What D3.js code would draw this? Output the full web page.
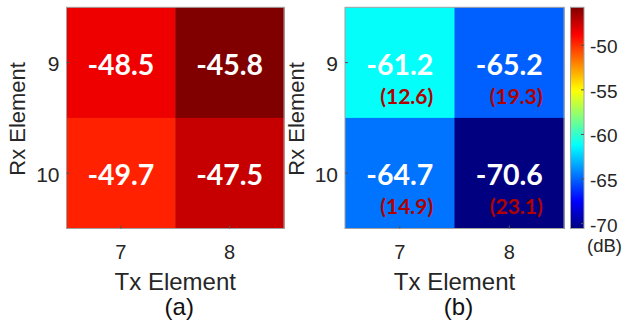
<!DOCTYPE html>
<html>
<head>
<meta charset="utf-8">
<script src="https://cdn.jsdelivr.net/npm/d3@7/dist/d3.min.js"></script>
<style>
  html, body { margin: 0; padding: 0; background: #fff; }
  svg { display: block; }
</style>
</head>
<body>
<svg id="chart" width="624" height="322"></svg>
<script>
// ---- data ----
const txElements = ["7", "8"];
const rxElements = ["9", "10"];
// cell order: (Rx9,Tx7), (Rx9,Tx8), (Rx10,Tx7), (Rx10,Tx8)
const cellTx = ["7", "8", "7", "8"];
const cellRx = ["9", "9", "10", "10"];
const couplingA = [-48.5, -45.8, -49.7, -47.5];
const couplingB = [-61.2, -65.2, -64.7, -70.6];
const reductionB = [12.6, 19.3, 14.9, 23.1];
const colorbarTicks = [-50, -55, -60, -65, -70];
const panelLabels = ["(a)", "(b)"];
const axisTitleX = "Tx Element";
const axisTitleY = "Rx Element";
const unitLabel = "(dB)";

// ---- jet colour scale (limits = data extent, as in the figure) ----
const [vmin, vmax] = d3.extent(couplingA.concat(couplingB));
const jetStops = [0, 0.125, 0.375, 0.625, 0.875, 1];
const jetColors = ["#000080", "#0000ff", "#00ffff", "#ffff00", "#ff0000", "#800000"];
const color = d3.scaleLinear()
  .domain(jetStops.map(t => vmin + t * (vmax - vmin)))
  .range(jetColors)
  .interpolate(d3.interpolateRgb)
  .clamp(true);

const svg = d3.select("#chart");
const textColor = "#262626";
const axisFont = "'Liberation Sans', Arial, sans-serif";
const valueFont = "Lato, 'Open Sans', sans-serif";

const plotTop = 7.3, plotBottom = 228.5;

function panel(x0, x1, values, reductions, label) {
  const x = d3.scaleBand().domain(txElements).range([x0, x1]);
  const y = d3.scaleBand().domain(rxElements).range([plotTop, plotBottom]);
  const g = svg.append("g");

  const cells = values.map((v, i) => ({ v, tx: cellTx[i], rx: cellRx[i], r: reductions ? reductions[i] : null }));

  g.selectAll("rect.cell").data(cells).join("rect")
    .attr("class", "cell")
    .attr("x", d => x(d.tx))
    .attr("y", d => y(d.rx))
    .attr("width", x.bandwidth() + 0.5)
    .attr("height", y.bandwidth() + 0.5)
    .attr("fill", d => color(d.v));

  // frame
  g.append("rect")
    .attr("x", x0).attr("y", plotTop)
    .attr("width", x1 - x0).attr("height", plotBottom - plotTop)
    .attr("fill", "none").attr("stroke", "#a0a0a0").attr("stroke-width", 1);

  // axes
  const xAxis = g.append("g")
    .attr("transform", `translate(0,${plotBottom})`)
    .call(d3.axisBottom(x).tickSizeInner(-3).tickSizeOuter(0).tickPadding(16));
  const yAxis = g.append("g")
    .attr("transform", `translate(${x0},0)`)
    .call(d3.axisLeft(y).tickSizeInner(-3).tickSizeOuter(0).tickPadding(7));
  [xAxis, yAxis].forEach(a => {
    a.select(".domain").remove();
    a.selectAll("line").attr("stroke", "#555");
    a.selectAll("text").attr("fill", textColor)
      .attr("font-family", axisFont);
  });
  xAxis.selectAll("text").attr("dy", "0.71em").attr("font-size", 20);
  yAxis.selectAll("text").attr("font-size", 21).attr("dy", "0.4em");

  // value labels
  const cx = d => x(d.tx) + x.bandwidth() / 2;
  const cy = d => y(d.rx) + y.bandwidth() / 2;
  const vt = g.selectAll("text.val").data(cells).join("text")
    .attr("class", "val")
    .attr("x", cx)
    .attr("y", d => cy(d) + 12)
    .attr("text-anchor", "middle")
    .attr("font-family", valueFont)
    .attr("font-weight", "bold")
    .attr("font-size", 28.5)
    .attr("fill", "#ffffff")
    .text(d => d.v.toFixed(1));

  if (reductions) {
    const widths = vt.nodes().map(n => n.getComputedTextLength());
    g.selectAll("text.red").data(cells).join("text")
      .attr("class", "red")
      .attr("x", (d, i) => cx(d) + widths[i] / 2)
      .attr("y", d => cy(d) + 41)
      .attr("text-anchor", "end")
      .attr("font-family", valueFont)
      .attr("font-weight", "bold")
      .attr("font-size", 21)
      .attr("fill", "#b00000")
      .text(d => `(${d.r.toFixed(1)})`);
  }

  // axis titles
  g.append("text")
    .attr("x", (x0 + x1) / 2).attr("y", 289.5)
    .attr("text-anchor", "middle")
    .attr("font-family", axisFont).attr("font-size", 24)
    .attr("fill", textColor)
    .text(axisTitleX);
  g.append("text")
    .attr("transform", `translate(${x0 - 41.5},${(plotTop + plotBottom) / 2 + 1}) rotate(-90)`)
    .attr("text-anchor", "middle")
    .attr("font-family", axisFont).attr("font-size", 22)
    .attr("fill", textColor)
    .text(axisTitleY);
  g.append("text")
    .attr("x", (x0 + x1) / 2 + 4).attr("y", 314.5)
    .attr("text-anchor", "middle")
    .attr("font-family", axisFont).attr("font-size", 24)
    .attr("fill", "#111")
    .text(label);
}

panel(66.5, 284, couplingA, null, panelLabels[0]);
panel(345, 564, couplingB, reductionB, panelLabels[1]);

// ---- colour bar ----
const cbX0 = 570.5, cbW = 13.5;
const cbScale = d3.scaleLinear().domain([vmin, vmax]).range([plotBottom, plotTop]);
const defs = svg.append("defs");
const grad = defs.append("linearGradient")
  .attr("id", "jetgrad").attr("x1", 0).attr("y1", 1).attr("x2", 0).attr("y2", 0);
d3.range(0, 1.0001, 0.02).forEach(t => {
  grad.append("stop").attr("offset", t).attr("stop-color", color(vmin + t * (vmax - vmin)));
});
svg.append("rect")
  .attr("x", cbX0).attr("y", plotTop).attr("width", cbW).attr("height", plotBottom - plotTop)
  .attr("fill", "url(#jetgrad)")
  .attr("stroke", "#a0a0a0").attr("stroke-width", 1);

const cbAxis = svg.append("g")
  .attr("transform", `translate(${cbX0 + cbW},0)`)
  .call(d3.axisRight(cbScale).tickValues(colorbarTicks).tickSizeInner(-3).tickSizeOuter(0).tickPadding(6)
    .tickFormat(d => d.toString()));
cbAxis.select(".domain").remove();
cbAxis.selectAll("line").attr("stroke", "#555");
cbAxis.selectAll("text").attr("fill", textColor)
  .attr("font-family", axisFont).attr("font-size", 19).attr("dy", "0.42em");

svg.append("text")
  .attr("x", 587).attr("y", 251.5)
  .attr("font-family", axisFont).attr("font-size", 18.5)
  .attr("fill", textColor)
  .text(unitLabel);
</script>
</body>
</html>
